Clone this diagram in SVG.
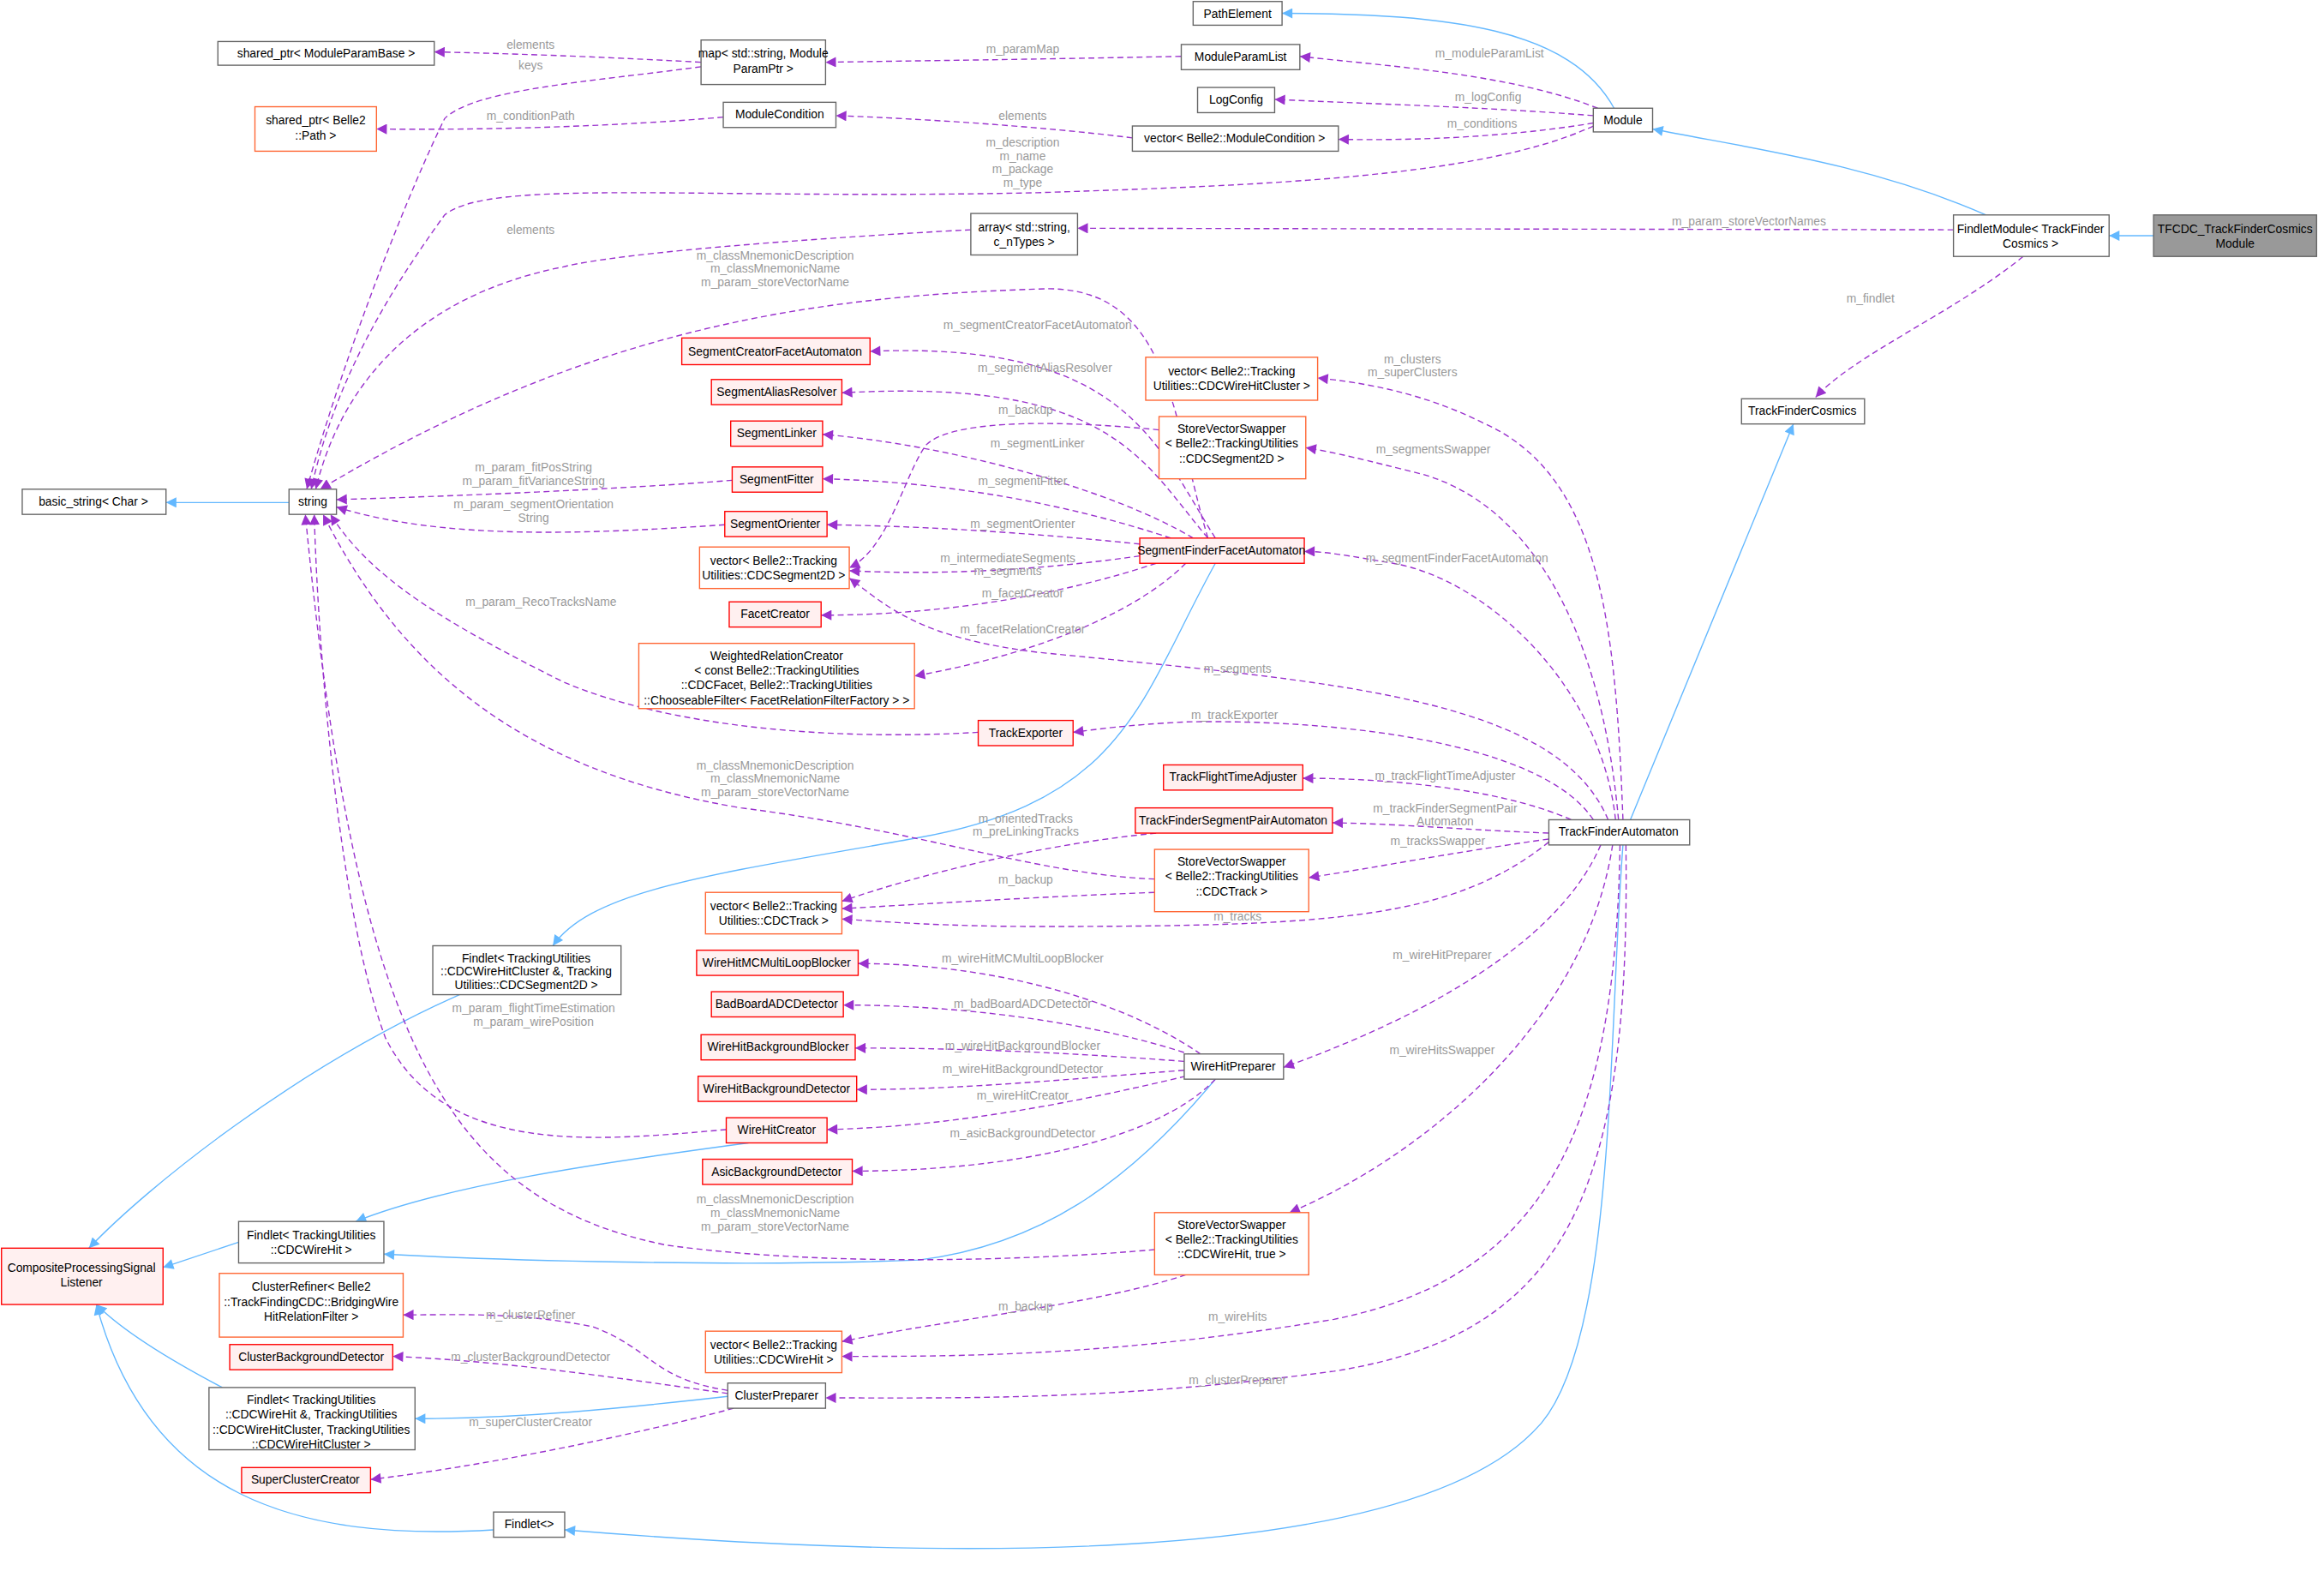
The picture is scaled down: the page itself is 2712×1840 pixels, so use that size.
<svg xmlns="http://www.w3.org/2000/svg" width="2712" height="1840" viewBox="0 0 2712 1840">
<style>
.n rect{fill:#fff;stroke:#666;stroke-width:0.8}
.r rect{fill:#fff0f0;stroke:#ff0000;stroke-width:0.8}
.o rect{fill:#fff;stroke:#ff6633;stroke-width:0.8}
.g rect{fill:#999;stroke:#666;stroke-width:0.8}
text{font-family:"Liberation Sans",Arial,sans-serif;font-size:8px;fill:#000;text-anchor:middle}
.e path{fill:none}
.d{stroke:#9a32cd;stroke-width:0.8;stroke-dasharray:4,2.5;marker-end:url(#mp)}
.b{stroke:#63b8ff;stroke-width:0.8;marker-end:url(#mb)}
.l{fill:#9a9a9a}
</style>
<defs>
<marker id="mp" viewBox="0 0 10 10" refX="10" refY="5" markerWidth="8" markerHeight="7" markerUnits="userSpaceOnUse" orient="auto"><path d="M0,0L10,5L0,10z" fill="#9a32cd"/></marker>
<marker id="mb" viewBox="0 0 10 10" refX="10" refY="5" markerWidth="8" markerHeight="7" markerUnits="userSpaceOnUse" orient="auto"><path d="M0,0L10,5L0,10z" fill="#63b8ff"/></marker>
</defs>
<rect width="2712" height="1840" fill="#fff"/>
<g transform="scale(1.7296)">
<g id="edges" class="e">
<path class="b" d="M1453,159L1423,159"/>
<path class="b" d="M1340,145C1260,110 1180,100 1115,87"/>
<path class="b" d="M1089,73C1060,20 980,9 865,9"/>
<path class="b" d="M1100,553L1210,286"/>
<path class="b" d="M195,339L112,339"/>
<path class="b" d="M820,380C770,470 760,540 620,565C480,590 400,600 373,638"/>
<path class="b" d="M310,671C200,720 100,800 60,842"/>
<path class="b" d="M505,771C400,785 300,800 240,824"/>
<path class="b" d="M820,728C760,800 700,840 620,850C500,855 330,850 259,846"/>
<path class="b" d="M161,838L110,855"/>
<path class="b" d="M150,936C110,915 80,895 65,880"/>
<path class="b" d="M491,942C420,950 350,957 280,957"/>
<path class="b" d="M333,1032C200,1040 100,1010 65,880"/>
<path class="b" d="M1095,570C1085,700 1090,900 1040,960C950,1064 600,1050 381,1032"/>

<path class="d" d="M1318,155L727,154"/>
<path class="d" d="M1365,173C1320,210 1250,240 1225,268"/>
<path class="d" d="M1078,73C1020,50 940,45 877,38"/>
<path class="d" d="M1075,78C1000,72 920,70 860,67"/>
<path class="d" d="M1075,83C1020,92 960,95 903,94"/>
<path class="d" d="M1075,85C1000,120 850,125 700,130C470,135 330,120 300,145C260,200 225,260 210,330"/>
<path class="d" d="M655,155C560,160 420,170 380,180C280,200 230,260 213,330"/>
<path class="d" d="M473,42C400,38 340,36 293,35"/>
<path class="d" d="M473,45C400,55 320,60 300,80C280,120 235,230 207,330"/>
<path class="d" d="M797,38C700,40 620,41 557,42"/>
<path class="d" d="M488,79C420,85 330,88 254,87"/>
<path class="d" d="M764,93C700,85 620,80 564,78"/>
<path class="d" d="M815,363C790,280 790,190 700,195C550,200 400,220 216,330"/>
<path class="d" d="M820,363C780,300 760,230 587,237"/>
<path class="d" d="M815,363C770,310 750,255 568,265"/>
<path class="d" d="M805,363C750,330 640,300 555,293"/>
<path class="d" d="M790,363C720,340 640,325 555,323"/>
<path class="d" d="M769,367C700,360 630,355 558,354"/>
<path class="d" d="M769,375C700,385 630,388 573,385"/>
<path class="d" d="M780,380C720,400 640,415 554,415"/>
<path class="d" d="M800,380C760,420 680,445 617,456"/>
<path class="d" d="M782,290C700,282 640,285 625,300C610,320 600,370 573,383"/>
<path class="d" d="M494,324C420,330 300,335 227,337"/>
<path class="d" d="M489,354C400,360 300,365 227,342"/>
<path class="d" d="M660,494C560,500 450,490 380,460C300,420 250,390 223,347"/>
<path class="d" d="M779,593C700,590 620,560 500,545C350,520 270,450 218,347"/>
<path class="d" d="M779,843C700,850 560,855 450,840C300,810 240,700 206,347"/>
<path class="d" d="M490,762C400,770 300,780 260,700C230,620 215,450 212,347"/>
<path class="d" d="M1095,553C1090,420 1080,320 1000,285C960,265 920,258 889,255"/>
<path class="d" d="M1092,553C1080,420 1030,340 960,320C920,310 900,305 881,302"/>
<path class="d" d="M1090,553C1080,460 1000,390 940,380C910,375 895,372 880,372"/>
<path class="d" d="M1085,553C1050,470 900,460 700,440C620,430 600,410 573,390"/>
<path class="d" d="M1075,553C1040,500 900,485 800,487C760,489 740,492 724,494"/>
<path class="d" d="M1060,553C1020,535 950,525 879,525"/>
<path class="d" d="M1045,562C990,560 950,556 899,555"/>
<path class="d" d="M1045,566C980,575 930,585 883,592"/>
<path class="d" d="M1045,568C980,620 900,625 700,625C640,625 600,622 568,620"/>
<path class="d" d="M780,562C700,570 620,590 568,608"/>
<path class="d" d="M779,602C700,605 620,610 568,613"/>
<path class="d" d="M1080,570C1050,640 950,690 866,720"/>
<path class="d" d="M1088,570C1070,690 960,780 870,818"/>
<path class="d" d="M1093,570C1090,750 1050,860 900,890C750,915 650,915 568,915"/>
<path class="d" d="M1097,570C1100,800 1060,900 900,925C750,945 650,943 557,943"/>
<path class="d" d="M810,711C750,670 660,650 579,650"/>
<path class="d" d="M805,712C740,690 650,678 569,678"/>
<path class="d" d="M799,716C720,710 650,707 577,707"/>
<path class="d" d="M799,722C720,728 650,735 578,735"/>
<path class="d" d="M800,726C720,745 640,760 558,762"/>
<path class="d" d="M820,728C780,770 680,790 575,790"/>
<path class="d" d="M800,860C740,880 640,890 568,905"/>
<path class="d" d="M491,938C440,930 440,910 400,895C350,885 310,887 272,887"/>
<path class="d" d="M491,940C420,930 340,918 265,915"/>
<path class="d" d="M495,950C420,970 320,990 250,998"/>
</g>
<g id="labels">
<text class="l" x="1180" y="152">m_param_storeVectorNames</text>
<text class="l" x="1262" y="204">m_findlet</text>
<text class="l" x="1005" y="39">m_moduleParamList</text>
<text class="l" x="1004" y="68">m_logConfig</text>
<text class="l" x="1000" y="86">m_conditions</text>
<text class="l" x="690" y="99">m_description</text><text class="l" x="690" y="108">m_name</text><text class="l" x="690" y="117">m_package</text><text class="l" x="690" y="126">m_type</text>
<text class="l" x="358" y="158">elements</text>
<text class="l" x="358" y="33">elements</text>
<text class="l" x="358" y="47">keys</text>
<text class="l" x="690" y="36">m_paramMap</text>
<text class="l" x="358" y="81">m_conditionPath</text>
<text class="l" x="690" y="81">elements</text>
<text class="l" x="523" y="175">m_classMnemonicDescription</text><text class="l" x="523" y="184">m_classMnemonicName</text><text class="l" x="523" y="193">m_param_storeVectorName</text>
<text class="l" x="700" y="222">m_segmentCreatorFacetAutomaton</text>
<text class="l" x="705" y="251">m_segmentAliasResolver</text>
<text class="l" x="692" y="279">m_backup</text>
<text class="l" x="700" y="302">m_segmentLinker</text>
<text class="l" x="690" y="327">m_segmentFitter</text>
<text class="l" x="690" y="356">m_segmentOrienter</text>
<text class="l" x="680" y="379">m_intermediateSegments</text><text class="l" x="680" y="388">m_segments</text>
<text class="l" x="690" y="403">m_facetCreator</text>
<text class="l" x="690" y="427">m_facetRelationCreator</text>
<text class="l" x="360" y="318">m_param_fitPosString</text><text class="l" x="360" y="327">m_param_fitVarianceString</text>
<text class="l" x="360" y="343">m_param_segmentOrientation</text><text class="l" x="360" y="352">String</text>
<text class="l" x="365" y="409">m_param_RecoTracksName</text>
<text class="l" x="523" y="519">m_classMnemonicDescription</text><text class="l" x="523" y="528">m_classMnemonicName</text><text class="l" x="523" y="537">m_param_storeVectorName</text>
<text class="l" x="523" y="812">m_classMnemonicDescription</text><text class="l" x="523" y="821">m_classMnemonicName</text><text class="l" x="523" y="830">m_param_storeVectorName</text>
<text class="l" x="360" y="683">m_param_flightTimeEstimation</text><text class="l" x="360" y="692">m_param_wirePosition</text>
<text class="l" x="953" y="245">m_clusters</text><text class="l" x="953" y="254">m_superClusters</text>
<text class="l" x="967" y="306">m_segmentsSwapper</text>
<text class="l" x="983" y="379">m_segmentFinderFacetAutomaton</text>
<text class="l" x="835" y="454">m_segments</text>
<text class="l" x="833" y="485">m_trackExporter</text>
<text class="l" x="975" y="526">m_trackFlightTimeAdjuster</text>
<text class="l" x="975" y="548">m_trackFinderSegmentPair</text><text class="l" x="975" y="557">Automaton</text>
<text class="l" x="970" y="570">m_tracksSwapper</text>
<text class="l" x="835" y="621">m_tracks</text>
<text class="l" x="692" y="555">m_orientedTracks</text><text class="l" x="692" y="564">m_preLinkingTracks</text>
<text class="l" x="692" y="596">m_backup</text>
<text class="l" x="973" y="647">m_wireHitPreparer</text>
<text class="l" x="973" y="711">m_wireHitsSwapper</text>
<text class="l" x="835" y="891">m_wireHits</text>
<text class="l" x="835" y="934">m_clusterPreparer</text>
<text class="l" x="690" y="649">m_wireHitMCMultiLoopBlocker</text>
<text class="l" x="690" y="680">m_badBoardADCDetector</text>
<text class="l" x="690" y="708">m_wireHitBackgroundBlocker</text>
<text class="l" x="690" y="724">m_wireHitBackgroundDetector</text>
<text class="l" x="690" y="742">m_wireHitCreator</text>
<text class="l" x="690" y="767">m_asicBackgroundDetector</text>
<text class="l" x="692" y="884">m_backup</text>
<text class="l" x="358" y="890">m_clusterRefiner</text>
<text class="l" x="358" y="918">m_clusterBackgroundDetector</text>
<text class="l" x="358" y="962">m_superClusterCreator</text>
</g>
<g id="TFCDC" class="g"><rect x="1453" y="145" width="110" height="28"/><text x="1508" y="157">TFCDC_TrackFinderCosmics</text><text x="1508" y="167">Module</text></g>
<g id="FindletModule" class="n"><rect x="1318" y="145" width="105" height="28"/><text x="1370" y="157">FindletModule&lt; TrackFinder</text><text x="1370" y="167">Cosmics &gt;</text></g>
<g id="Module" class="n"><rect x="1075" y="73" width="40" height="16"/><text x="1095" y="84">Module</text></g>
<g id="PathElement" class="n"><rect x="805" y="1" width="60" height="16"/><text x="835" y="12">PathElement</text></g>
<g id="ModuleParamList" class="n"><rect x="797" y="30" width="80" height="17"/><text x="837" y="41">ModuleParamList</text></g>
<g id="LogConfig" class="n"><rect x="808" y="59" width="52" height="17"/><text x="834" y="70">LogConfig</text></g>
<g id="vecModCond" class="n"><rect x="764" y="85" width="139" height="17"/><text x="833" y="96">vector&lt; Belle2::ModuleCondition &gt;</text></g>
<g id="map" class="n"><rect x="473" y="27" width="84" height="30"/><text x="515" y="39">map&lt; std::string, Module</text><text x="515" y="49">ParamPtr &gt;</text></g>
<g id="spModuleParamBase" class="n"><rect x="147" y="28" width="146" height="16"/><text x="220" y="39">shared_ptr&lt; ModuleParamBase &gt;</text></g>
<g id="spPath" class="o"><rect x="172" y="72" width="82" height="30"/><text x="213" y="84">shared_ptr&lt; Belle2</text><text x="213" y="94">::Path &gt;</text></g>
<g id="ModuleCondition" class="n"><rect x="488" y="69" width="76" height="17"/><text x="526" y="80">ModuleCondition</text></g>
<g id="array" class="n"><rect x="655" y="144" width="72" height="28"/><text x="691" y="156">array&lt; std::string,</text><text x="691" y="166">c_nTypes &gt;</text></g>
<g id="TrackFinderCosmics" class="n"><rect x="1175" y="269" width="83" height="17"/><text x="1216" y="280">TrackFinderCosmics</text></g>
<g id="string" class="n"><rect x="195" y="330" width="32" height="17"/><text x="211" y="341">string</text></g>
<g id="basic_string" class="n"><rect x="15" y="330" width="97" height="17"/><text x="63" y="341">basic_string&lt; Char &gt;</text></g>
<g id="SegCreator" class="r"><rect x="460" y="228" width="127" height="18"/><text x="523" y="240">SegmentCreatorFacetAutomaton</text></g>
<g id="SegAlias" class="r"><rect x="480" y="256" width="88" height="17"/><text x="524" y="267">SegmentAliasResolver</text></g>
<g id="SegLinker" class="r"><rect x="493" y="284" width="62" height="17"/><text x="524" y="295">SegmentLinker</text></g>
<g id="SegFitter" class="r"><rect x="494" y="315" width="61" height="17"/><text x="524" y="326">SegmentFitter</text></g>
<g id="SegOrienter" class="r"><rect x="489" y="345" width="69" height="17"/><text x="523" y="356">SegmentOrienter</text></g>
<g id="vecSeg2D" class="o"><rect x="472" y="369" width="101" height="28"/><text x="522" y="381">vector&lt; Belle2::Tracking</text><text x="522" y="391">Utilities::CDCSegment2D &gt;</text></g>
<g id="FacetCreator" class="r"><rect x="492" y="406" width="62" height="17"/><text x="523" y="417">FacetCreator</text></g>
<g id="WeightedRel" class="o"><rect x="431" y="434" width="186" height="44"/><text x="524" y="445">WeightedRelationCreator</text><text x="524" y="455">&lt; const Belle2::TrackingUtilities</text><text x="524" y="465">::CDCFacet, Belle2::TrackingUtilities</text><text x="524" y="475">::ChooseableFilter&lt; FacetRelationFilterFactory &gt; &gt;</text></g>
<g id="TrackExporter" class="r"><rect x="660" y="486" width="64" height="17"/><text x="692" y="497">TrackExporter</text></g>
<g id="vecCluster" class="o"><rect x="773" y="241" width="116" height="29"/><text x="831" y="253">vector&lt; Belle2::Tracking</text><text x="831" y="263">Utilities::CDCWireHitCluster &gt;</text></g>
<g id="SVSSeg" class="o"><rect x="782" y="281" width="99" height="42"/><text x="831" y="292">StoreVectorSwapper</text><text x="831" y="302">&lt; Belle2::TrackingUtilities</text><text x="831" y="312">::CDCSegment2D &gt;</text></g>
<g id="SFFA" class="r"><rect x="769" y="363" width="111" height="17"/><text x="824" y="374">SegmentFinderFacetAutomaton</text></g>
<g id="TFTA" class="r"><rect x="785" y="516" width="94" height="17"/><text x="832" y="527">TrackFlightTimeAdjuster</text></g>
<g id="TFSPA" class="r"><rect x="766" y="545" width="133" height="17"/><text x="832" y="556">TrackFinderSegmentPairAutomaton</text></g>
<g id="SVSTrack" class="o"><rect x="779" y="573" width="104" height="42"/><text x="831" y="584">StoreVectorSwapper</text><text x="831" y="594">&lt; Belle2::TrackingUtilities</text><text x="831" y="604">::CDCTrack &gt;</text></g>
<g id="TFA" class="n"><rect x="1045" y="553" width="95" height="17"/><text x="1092" y="564">TrackFinderAutomaton</text></g>
<g id="vecTrack" class="o"><rect x="476" y="602" width="92" height="28"/><text x="522" y="614">vector&lt; Belle2::Tracking</text><text x="522" y="624">Utilities::CDCTrack &gt;</text></g>
<g id="FindletSeg" class="n"><rect x="292" y="638" width="127" height="33"/><text x="355" y="649">Findlet&lt; TrackingUtilities</text><text x="355" y="658">::CDCWireHitCluster &amp;, Tracking</text><text x="355" y="667">Utilities::CDCSegment2D &gt;</text></g>
<g id="MCMLB" class="r"><rect x="470" y="641" width="109" height="17"/><text x="524" y="652">WireHitMCMultiLoopBlocker</text></g>
<g id="BBADC" class="r"><rect x="480" y="669" width="89" height="17"/><text x="524" y="680">BadBoardADCDetector</text></g>
<g id="WHBB" class="r"><rect x="473" y="698" width="104" height="17"/><text x="525" y="709">WireHitBackgroundBlocker</text></g>
<g id="WHBD" class="r"><rect x="471" y="726" width="107" height="17"/><text x="524" y="737">WireHitBackgroundDetector</text></g>
<g id="WHC" class="r"><rect x="490" y="754" width="68" height="17"/><text x="524" y="765">WireHitCreator</text></g>
<g id="ABD" class="r"><rect x="474" y="782" width="101" height="17"/><text x="524" y="793">AsicBackgroundDetector</text></g>
<g id="WHP" class="n"><rect x="799" y="711" width="67" height="17"/><text x="832" y="722">WireHitPreparer</text></g>
<g id="FindletWH" class="n"><rect x="161" y="824" width="98" height="28"/><text x="210" y="836">Findlet&lt; TrackingUtilities</text><text x="210" y="846">::CDCWireHit &gt;</text></g>
<g id="CPSL" class="r"><rect x="1" y="842" width="109" height="38"/><text x="55" y="858">CompositeProcessingSignal</text><text x="55" y="868">Listener</text></g>
<g id="SVSWH" class="o"><rect x="779" y="818" width="104" height="42"/><text x="831" y="829">StoreVectorSwapper</text><text x="831" y="839">&lt; Belle2::TrackingUtilities</text><text x="831" y="849">::CDCWireHit, true &gt;</text></g>
<g id="ClusterRefiner" class="o"><rect x="148" y="859" width="124" height="43"/><text x="210" y="871">ClusterRefiner&lt; Belle2</text><text x="210" y="881">::TrackFindingCDC::BridgingWire</text><text x="210" y="891">HitRelationFilter &gt;</text></g>
<g id="vecWH" class="o"><rect x="476" y="898" width="92" height="28"/><text x="522" y="910">vector&lt; Belle2::Tracking</text><text x="522" y="920">Utilities::CDCWireHit &gt;</text></g>
<g id="CBD" class="r"><rect x="155" y="907" width="110" height="17"/><text x="210" y="918">ClusterBackgroundDetector</text></g>
<g id="ClusterPreparer" class="n"><rect x="491" y="933" width="66" height="17"/><text x="524" y="944">ClusterPreparer</text></g>
<g id="FindletCluster" class="n"><rect x="141" y="936" width="139" height="42"/><text x="210" y="947">Findlet&lt; TrackingUtilities</text><text x="210" y="957">::CDCWireHit &amp;, TrackingUtilities</text><text x="210" y="967">::CDCWireHitCluster, TrackingUtilities</text><text x="210" y="977">::CDCWireHitCluster &gt;</text></g>
<g id="SCC" class="r"><rect x="163" y="990" width="87" height="17"/><text x="206" y="1001">SuperClusterCreator</text></g>
<g id="Findlet0" class="n"><rect x="333" y="1020" width="48" height="17"/><text x="357" y="1031">Findlet&lt;&gt;</text></g>
</g>
</svg>
